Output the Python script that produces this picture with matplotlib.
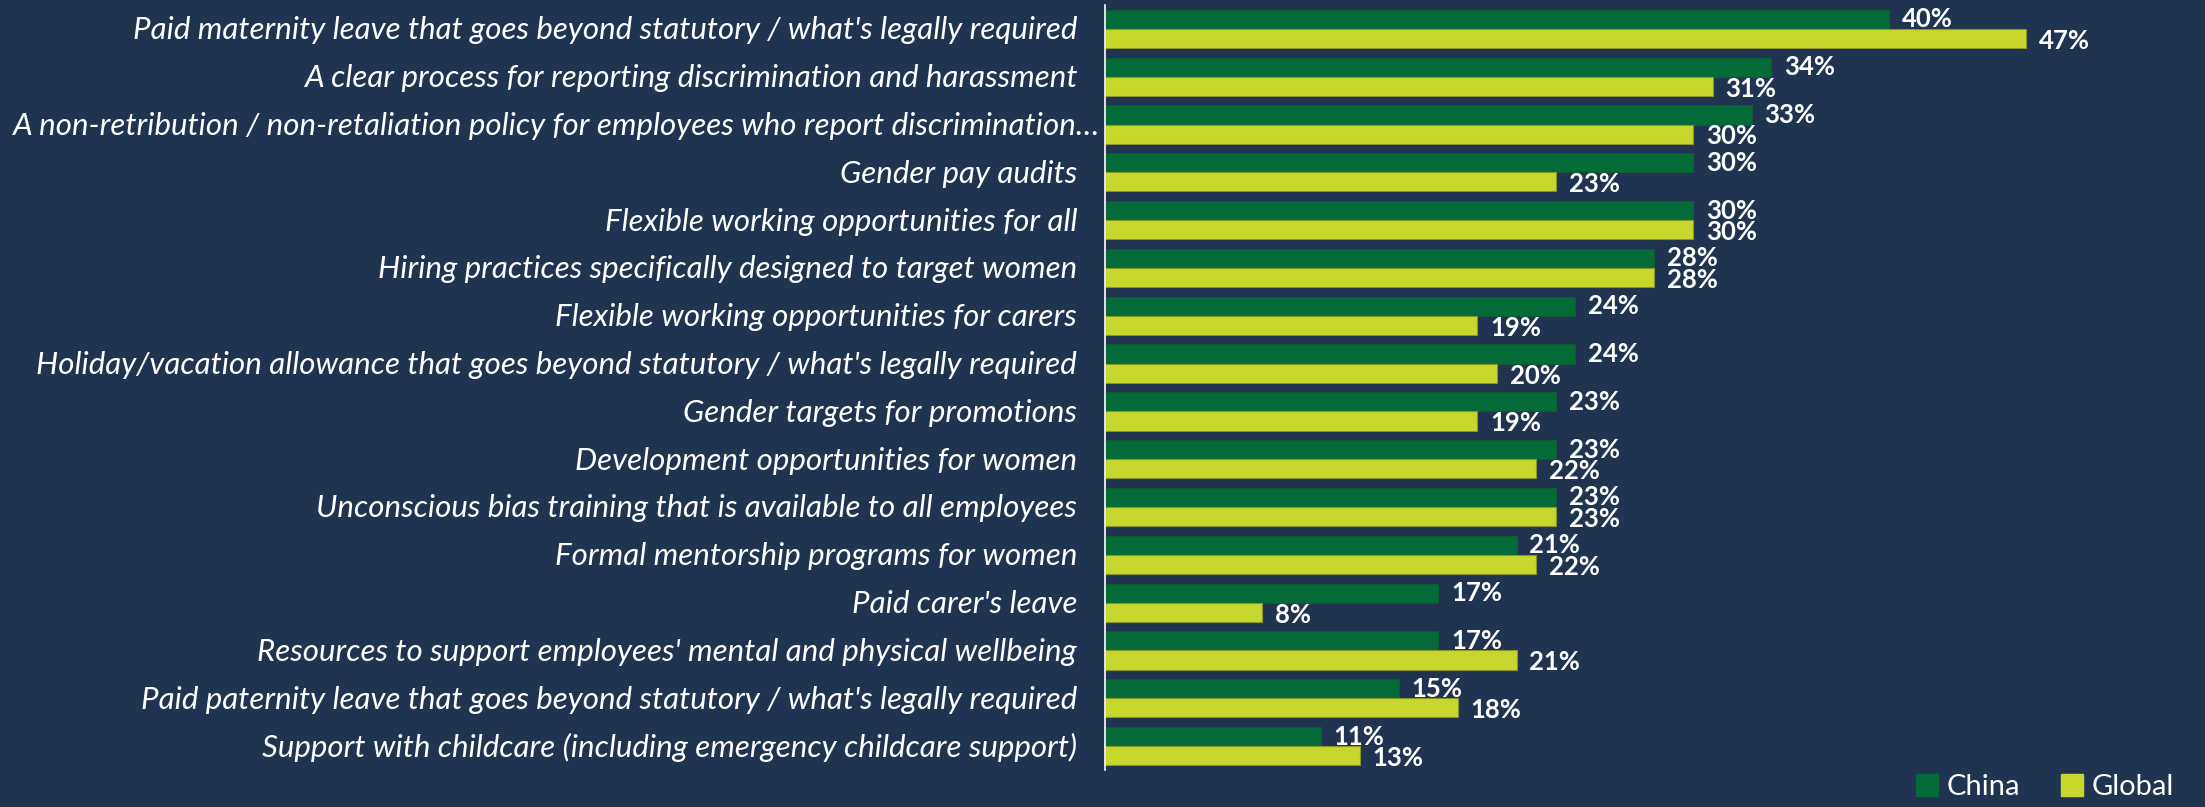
import numpy as np
import matplotlib
matplotlib.use("Agg")
import matplotlib.pyplot as plt
from matplotlib.patches import Patch
from matplotlib.transforms import ScaledTranslation

categories = [
    "Paid maternity leave that goes beyond statutory / what's legally required",
    "A clear process for reporting discrimination and harassment",
    "A non-retribution / non-retaliation policy for employees who report discrimination…",
    "Gender pay audits",
    "Flexible working opportunities for all",
    "Hiring practices specifically designed to target women",
    "Flexible working opportunities for carers",
    "Holiday/vacation allowance that goes beyond statutory / what's legally required",
    "Gender targets for promotions",
    "Development opportunities for women",
    "Unconscious bias training that is available to all employees",
    "Formal mentorship programs for women",
    "Paid carer's leave",
    "Resources to support employees' mental and physical wellbeing",
    "Paid paternity leave that goes beyond statutory / what's legally required",
    "Support with childcare (including emergency childcare support)",
]
china = [40, 34, 33, 30, 30, 28, 24, 24, 23, 23, 23, 21, 17, 17, 15, 11]
global_ = [47, 31, 30, 23, 30, 28, 19, 20, 19, 22, 23, 22, 8, 21, 18, 13]
series_names = ["China", "Global"]

BG = "#203350"
GREEN = "#046a38"
YELLOW = "#c8d72d"

W, H = 2205, 807
fig = plt.figure(figsize=(W / 100, H / 100), dpi=100, facecolor=BG)
ax = fig.add_axes([1105 / W, 1 - 770 / H, 1 - 1105 / W, (770 - 5) / H])
ax.set_facecolor(BG)

y = np.arange(len(categories))
h = 0.4
ax.barh(y - h / 2, china, height=h, color=GREEN, edgecolor="#0f5a34", linewidth=0.8)
ax.barh(y + h / 2, global_, height=h, color=YELLOW, edgecolor="#8a962a", linewidth=0.8)

ax.set_xlim(0, 1100 / 19.6)
ax.set_ylim(len(categories) - 0.5, -0.5)

for i in range(len(categories)):
    ax.text(china[i] + 0.65, i - h / 2, f"{china[i]}%", color="white", fontsize=18.5,
            fontweight="bold", family="Lato", va="center", ha="left")
    ax.text(global_[i] + 0.65, i + h / 2 + 0.05, f"{global_[i]}%", color="white", fontsize=18.5,
            fontweight="bold", family="Lato", va="center", ha="left")

# category labels: the long one sits closer to the axis, like in the source
for i, cat in enumerate(categories):
    pad = 4 if cat.endswith("…") else 20
    tr = ax.get_yaxis_transform() + ScaledTranslation(-pad / 72, 0, fig.dpi_scale_trans)
    ax.text(0, i + 0.03, cat, transform=tr, ha="right", va="center", fontsize=22.5,
            style="italic", family="Lato", color="white")

ax.set_yticks([])
ax.set_xticks([])
for side in ["top", "right", "bottom"]:
    ax.spines[side].set_visible(False)
ax.spines["left"].set_color("white")
ax.spines["left"].set_linewidth(1.2)

handles = [Patch(color=GREEN), Patch(color=YELLOW)]
fig.legend(handles, series_names, loc="lower right", bbox_to_anchor=(2200 / W, -0.024),
           ncol=2, frameon=False, labelcolor="white",
           handlelength=0.75, handleheight=0.75, handletextpad=0.3, columnspacing=1.4,
           prop={"family": "Lato", "size": 21})

fig.savefig("out.png", dpi=100, facecolor=BG)
